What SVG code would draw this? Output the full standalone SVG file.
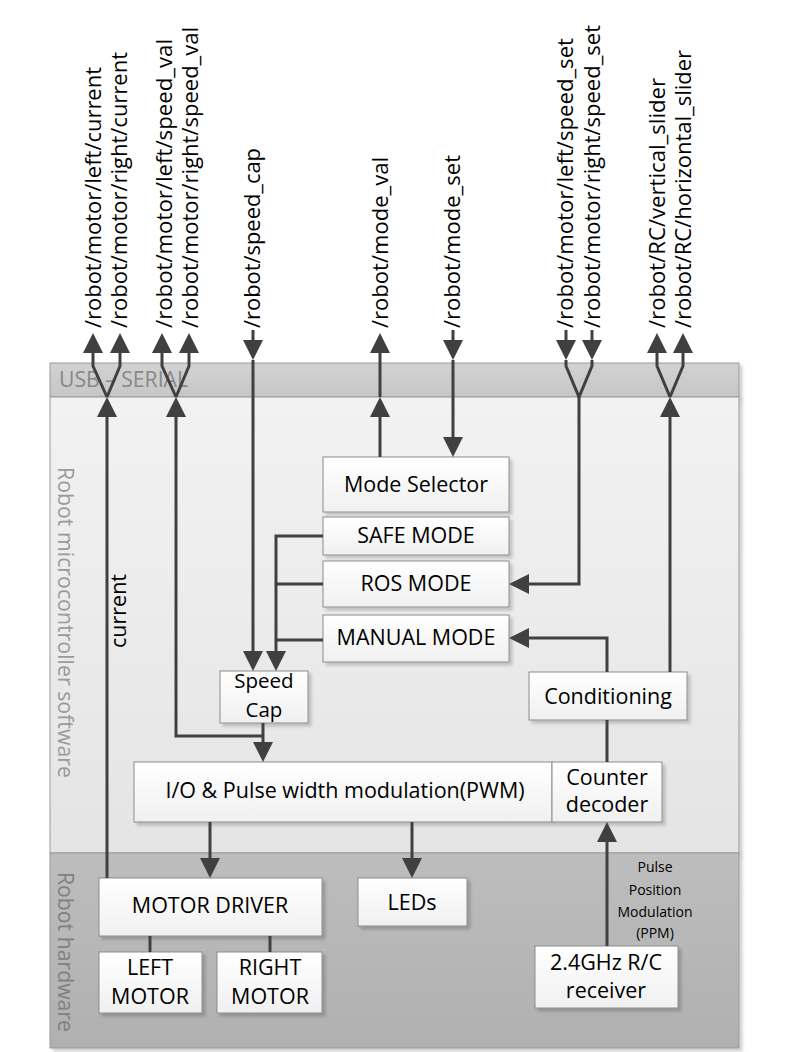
<svg xmlns="http://www.w3.org/2000/svg" width="801" height="1052" viewBox="0 0 801 1052">
<defs>
  <linearGradient id="gUsb" x1="0" y1="0" x2="0" y2="1">
    <stop offset="0" stop-color="#d2d2d2"/><stop offset="1" stop-color="#c6c6c6"/>
  </linearGradient>
  <linearGradient id="gSw" x1="0" y1="0" x2="0" y2="1">
    <stop offset="0" stop-color="#f2f2f2"/><stop offset="1" stop-color="#e4e4e4"/>
  </linearGradient>
  <linearGradient id="gHw" x1="0" y1="0" x2="0" y2="1">
    <stop offset="0" stop-color="#bdbdbd"/><stop offset="1" stop-color="#b0b0b0"/>
  </linearGradient>
  <linearGradient id="gBox" x1="0" y1="0" x2="0" y2="1">
    <stop offset="0" stop-color="#ffffff"/><stop offset="1" stop-color="#f0f0f0"/>
  </linearGradient>
  <filter id="sh" x="-5%" y="-5%" width="115%" height="120%">
    <feDropShadow dx="3" dy="3" stdDeviation="1.5" flood-color="#000" flood-opacity="0.18"/>
  </filter>
  <marker id="ah" viewBox="0 0 20 20" refX="16" refY="10" markerWidth="20" markerHeight="20" markerUnits="userSpaceOnUse" orient="auto">
    <path d="M0,0 L20,10 L0,20 z" fill="#404040"/>
  </marker>
</defs>
<style>
  .layer { stroke: #9a9a9a; stroke-width: 1; filter: url(#sh); }
  .box { fill: url(#gBox); stroke: #8c8c8c; stroke-width: 1; filter: url(#sh); }
  .t { font-family: "Open Sans", "Noto Sans", "Liberation Sans", sans-serif; font-size: 21.5px; fill: #000; }
  .t2 { font-family: "Open Sans", "Noto Sans", "Liberation Sans", sans-serif; font-size: 20.5px; fill: #000; }
  .c { text-anchor: middle; }
  .lbl { font-family: "Open Sans", "Noto Sans", "Liberation Sans", sans-serif; font-size: 21px; fill: #000; }
  .bg { font-family: "Open Sans", "Noto Sans", "Liberation Sans", sans-serif; font-size: 21px; }
  .small { font-family: "Open Sans", "Noto Sans", "Liberation Sans", sans-serif; font-size: 14px; fill: #000; text-anchor: middle; }
  .cn { fill: none; stroke: #404040; stroke-width: 3; stroke-linejoin: miter; }
  .ar { marker-end: url(#ah); }
</style>

<g id="layer-usb-serial">
  <rect class="layer" x="50" y="363" width="689" height="34" fill="url(#gUsb)"/>
  <text class="bg" x="59" y="387" fill="#888888" textLength="129" lengthAdjust="spacingAndGlyphs">USB – SERIAL</text>
</g>
<g id="layer-software">
  <rect class="layer" x="50" y="397" width="689" height="456" fill="url(#gSw)"/>
  <text class="bg" x="58" y="467" fill="#9a9a9a" transform="rotate(90 58 467)" textLength="311" lengthAdjust="spacingAndGlyphs">Robot microcontroller software</text>
</g>
<g id="layer-hardware">
  <rect class="layer" x="50" y="853" width="689" height="195" fill="url(#gHw)"/>
  <text class="bg" x="58" y="872" fill="#808080" transform="rotate(90 58 872)" textLength="160" lengthAdjust="spacingAndGlyphs">Robot hardware</text>
</g>

<g id="topic-labels">
  <text class="lbl" x="101" y="328" transform="rotate(-90 101 328)" textLength="261" lengthAdjust="spacingAndGlyphs">/robot/motor/left/current</text>
  <text class="lbl" x="127" y="328" transform="rotate(-90 127 328)" textLength="276" lengthAdjust="spacingAndGlyphs">/robot/motor/right/current</text>
  <text class="lbl" x="172" y="328" transform="rotate(-90 172 328)" textLength="289" lengthAdjust="spacingAndGlyphs">/robot/motor/left/speed_val</text>
  <text class="lbl" x="198" y="328" transform="rotate(-90 198 328)" textLength="301" lengthAdjust="spacingAndGlyphs">/robot/motor/right/speed_val</text>
  <text class="lbl" x="260" y="328" transform="rotate(-90 260 328)" textLength="180" lengthAdjust="spacingAndGlyphs">/robot/speed_cap</text>
  <text class="lbl" x="388" y="328" transform="rotate(-90 388 328)" textLength="171" lengthAdjust="spacingAndGlyphs">/robot/mode_val</text>
  <text class="lbl" x="460" y="328" transform="rotate(-90 460 328)" textLength="173" lengthAdjust="spacingAndGlyphs">/robot/mode_set</text>
  <text class="lbl" x="573" y="328" transform="rotate(-90 573 328)" textLength="290" lengthAdjust="spacingAndGlyphs">/robot/motor/left/speed_set</text>
  <text class="lbl" x="600" y="328" transform="rotate(-90 600 328)" textLength="303" lengthAdjust="spacingAndGlyphs">/robot/motor/right/speed_set</text>
  <text class="lbl" x="665" y="328" transform="rotate(-90 665 328)" textLength="250" lengthAdjust="spacingAndGlyphs">/robot/RC/vertical_slider</text>
  <text class="lbl" x="691" y="328" transform="rotate(-90 691 328)" textLength="278" lengthAdjust="spacingAndGlyphs">/robot/RC/horizontal_slider</text>
</g>

<g id="mode-selector">
  <rect class="box" x="323" y="457" width="186" height="55"/>
  <text class="t c" x="416" y="492">Mode Selector</text>
</g>
<g id="safe-mode">
  <rect class="box" x="323" y="517" width="186" height="38"/>
  <text class="t c" x="416" y="543">SAFE MODE</text>
</g>
<g id="ros-mode">
  <rect class="box" x="323" y="561" width="186" height="46"/>
  <text class="t c" x="416" y="591">ROS MODE</text>
</g>
<g id="manual-mode">
  <rect class="box" x="323" y="615" width="186" height="47"/>
  <text class="t c" x="416" y="645">MANUAL MODE</text>
</g>
<g id="speed-cap">
  <rect class="box" x="220" y="671" width="88" height="52"/>
  <text class="t2 c" x="264" y="688">Speed</text>
  <text class="t2 c" x="264" y="717">Cap</text>
</g>
<g id="conditioning">
  <rect class="box" x="529" y="672" width="158" height="48"/>
  <text class="t c" x="608" y="704">Conditioning</text>
</g>
<g id="pwm">
  <rect class="box" x="134" y="762" width="418" height="60"/>
  <text class="t c" x="345" y="798">I/O &amp; Pulse width modulation(PWM)</text>
</g>
<g id="counter-decoder">
  <rect class="box" x="552" y="762" width="110" height="60"/>
  <text class="t c" x="607" y="785">Counter</text>
  <text class="t c" x="607" y="812">decoder</text>
</g>
<g id="motor-driver">
  <rect class="box" x="99" y="878" width="223" height="58"/>
  <text class="t c" x="210" y="913">MOTOR DRIVER</text>
</g>
<g id="left-motor">
  <rect class="box" x="99" y="952" width="103" height="61"/>
  <text class="t c" x="150" y="975">LEFT</text>
  <text class="t c" x="150" y="1004">MOTOR</text>
</g>
<g id="right-motor">
  <rect class="box" x="217" y="952" width="105" height="61"/>
  <text class="t c" x="270" y="975">RIGHT</text>
  <text class="t c" x="270" y="1004">MOTOR</text>
</g>
<g id="leds">
  <rect class="box" x="358" y="878" width="109" height="48"/>
  <text class="t c" x="412" y="910">LEDs</text>
</g>
<g id="rc-receiver">
  <rect class="box" x="535" y="946" width="143" height="62"/>
  <text class="t c" x="606" y="970">2.4GHz R/C</text>
  <text class="t c" x="606" y="998">receiver</text>
</g>

<g id="connectors">
  <path class="cn ar" d="M107,878 L107,401"/>
  <path class="cn ar" d="M107,397 L93,366 L93,337"/>
  <path class="cn ar" d="M107,397 L120,366 L120,337"/>
  <path class="cn ar" d="M263,736 L176,736 L176,401"/>
  <path class="cn ar" d="M176,397 L162,366 L162,337"/>
  <path class="cn ar" d="M176,397 L189,366 L189,337"/>
  <path class="cn ar" d="M263,723 L263,758"/>
  <path class="cn ar" d="M253,330 L253,356"/>
  <path class="cn ar" d="M253,360 L253,667"/>
  <path class="cn ar" d="M323,536 L276,536 L276,667"/>
  <path class="cn" d="M323,584 L276,584"/>
  <path class="cn" d="M323,640 L276,640"/>
  <path class="cn ar" d="M380,457 L380,401"/>
  <path class="cn ar" d="M380,397 L380,337"/>
  <path class="cn ar" d="M453,330 L453,356"/>
  <path class="cn ar" d="M453,360 L453,453"/>
  <path class="cn ar" d="M566,330 L566,356"/>
  <path class="cn ar" d="M592,330 L592,356"/>
  <path class="cn" d="M566,360 L566,366 L579,397 L592,366 L592,360"/>
  <path class="cn ar" d="M579,396 L579,584 L513,584"/>
  <path class="cn ar" d="M670,672 L670,401"/>
  <path class="cn ar" d="M670,397 L657,366 L657,337"/>
  <path class="cn ar" d="M670,397 L683,366 L683,337"/>
  <path class="cn ar" d="M607,672 L607,638 L513,638"/>
  <path class="cn" d="M607,762 L607,720"/>
  <path class="cn ar" d="M607,946 L607,826"/>
  <path class="cn ar" d="M210,822 L210,874"/>
  <path class="cn ar" d="M412,822 L412,874"/>
  <path class="cn" d="M150,936 L150,952"/>
  <path class="cn" d="M270,936 L270,952"/>
</g>

<g id="connector-labels">
  <text class="t" x="126" y="648" transform="rotate(-90 126 648)">current</text>
  <text class="small" x="655" y="872">Pulse</text>
  <text class="small" x="655" y="895">Position</text>
  <text class="small" x="655" y="917">Modulation</text>
  <text class="small" x="655" y="938">(PPM)</text>
</g>
</svg>
